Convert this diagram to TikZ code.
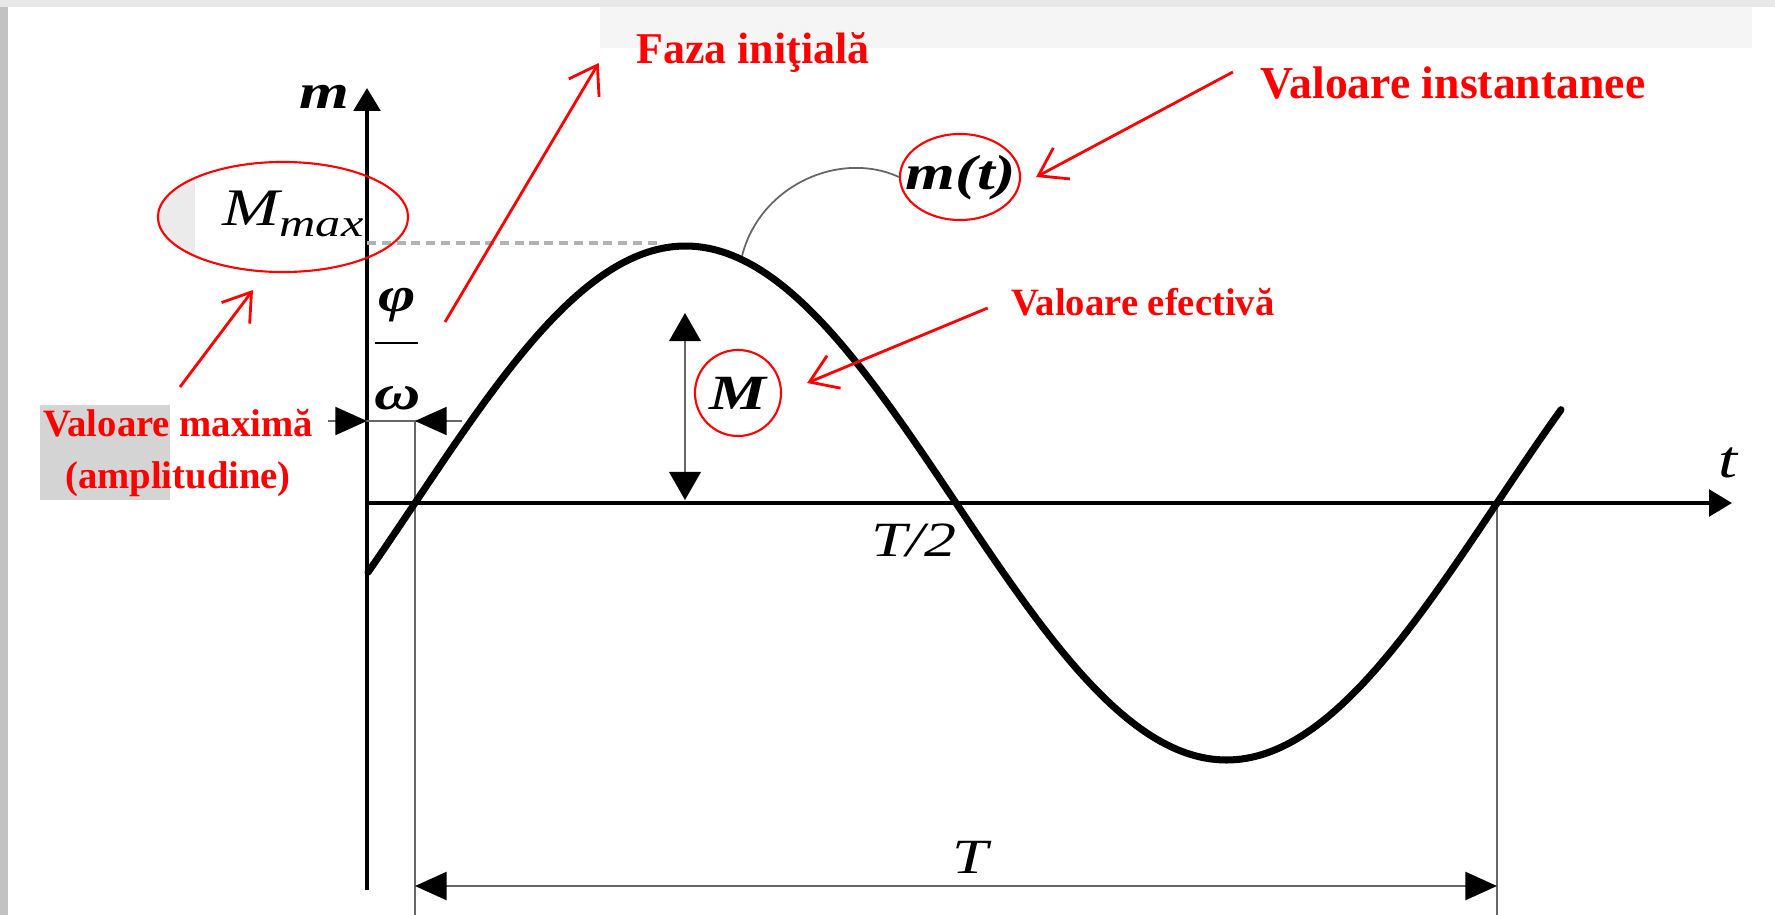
\documentclass[tikz,border=0pt]{standalone}
\usepackage{fontspec}
\setmainfont{Liberation Serif}
\usetikzlibrary{arrows.meta,shapes.geometric}
\newcommand\mxs[1]{\scalebox{1.3}[1]{#1}}
\definecolor{pured}{RGB}{255,0,0}
\tikzset{
  axisline/.style={line width=1.2pt,-{Triangle[length=6.5pt,width=7.5pt]}},
  wave/.style={line width=2pt,line join=round,line cap=round},
  thinline/.style={line width=0.45pt,black!60},
  dimarrow/.style={line width=0.6pt,black!60,{Triangle[length=9pt,width=8pt,color=black]}-{Triangle[length=9pt,width=8pt,color=black]}},
  headarrow/.style={line width=0.45pt,black!60,-{Triangle[length=9pt,width=8pt,color=black]}},
  redarrow/.style={pured,line width=0.8pt,-{Straight Barb[length=7.5pt,width=10pt]}},
  redell/.style={draw=pured,line width=0.6pt,ellipse,inner sep=0pt},
  redlab/.style={text=pured,inner sep=0pt,align=center},
  mlab/.style={inner sep=0pt,font=\fontsize{14}{16}\selectfont},
}
\begin{document}
\begin{tikzpicture}[x=0.01cm,y=-0.01cm]
\useasboundingbox (0,0) rectangle (1775,915);
% background
\fill[white] (0,0) rectangle (1775,915);
\fill[black!24] (0,0) rectangle (8,915);
\fill[black!9] (0,0) rectangle (1775,7);
\fill[black!4] (600,7) rectangle (1752,48);
\fill[black!17] (40,405) rectangle (170,500);
\begin{scope}
\clip (283,217) ellipse [x radius=125, y radius=55];
\fill[black!8] (150,160) rectangle (195,275);
\end{scope}

% axes
\coordinate (O) at (367,503);
\coordinate (Ytop) at (367,88);
\coordinate (Ybot) at (367,890);
\coordinate (Xend) at (1732,503);
\draw[axisline] (Ybot) -- (Ytop);
\draw[axisline] (O) -- (Xend);

% dashed max line
\coordinate (Mtop) at (367,243);
\coordinate (Pk) at (660,243);
\draw[black!30,line width=0.9pt,dash pattern=on 2.6pt off 1.6pt] (Mtop) -- (Pk);

% thin verticals
\coordinate (Z1) at (415,421);
\coordinate (Z1b) at (415,915);
\coordinate (Z2) at (1497,503);
\coordinate (Z2b) at (1497,915);
\draw[thinline] (Z1) -- (Z1b);
\draw[thinline] (Z2) -- (Z2b);

% phi/omega dimension
\coordinate (pwL) at (328,421);
\coordinate (pwA) at (367,421);
\coordinate (pwR) at (462,421);
\draw[thinline] (pwL) -- (pwR);
\draw[headarrow] (pwL) -- (pwA);
\draw[headarrow] (pwR) -- (Z1);

% period arrow
\coordinate (T1) at (415,886);
\coordinate (T2) at (1497,886);
\draw[dimarrow] (T1) -- (T2);

% M arrow
\coordinate (Ma) at (685,313);
\coordinate (Mb) at (685,500);
\draw[line width=0.6pt,black!60,{Triangle[length=8pt,width=9pt,color=black]}-{Triangle[length=8pt,width=9pt,color=black]}] (Ma) -- (Mb);

% sine wave
\draw[wave] plot[domain=368:1561,samples=240] (\x,{503-257*sin((\x-415)/1082*360)});

% labels
\node[mlab] (mlab) at (324,97) {\mxs{\bfseries\itshape m}};
\node[mlab,font=\fontsize{15}{16}\selectfont] (tlab) at (1728,463) {\mxs{\itshape t}};
\node[mlab] (half) at (914,540) {\mxs{\itshape T/2}};
\node[mlab] (per) at (970,857) {\mxs{\itshape T}};
\node[mlab] (phi) at (397,305) {\mxs{\bfseries\itshape φ}};
\node[mlab] (omg) at (398,398) {\mxs{\bfseries\itshape ω}};
\coordinate (fb1) at (375,343);
\coordinate (fb2) at (418,343);
\draw[line width=0.8pt] (fb1) -- (fb2);

% Mmax
\node[redell,minimum width=2.5cm,minimum height=1.1cm] (mmaxE) at (283,217) {};
\node[mlab] (mmax) at (293,214) {\mxs{\itshape\fontsize{15}{16}\selectfont M{\fontsize{11}{11}\selectfont\raisebox{-3pt}{max}}}};

% m(t)
\node[redell,minimum width=1.2cm,minimum height=0.86cm] (mtE) at (960,177) {};
\node[mlab] (mt) at (961,178) {\mxs{\bfseries\itshape m(t)}};
\coordinate (Cs) at (742,256);
\draw[black!60,line width=0.5pt] (Cs) .. controls (760,185) and (840,150) .. (mtE.west);

% M
\node[redell,circle,minimum size=0.86cm] (Mc) at (738,393) {};
\node[mlab] (Mtxt) at (738,393) {\mxs{\bfseries\itshape M}};

% red labels
\node[redlab,font=\bfseries\fontsize{12.5}{15}\selectfont] (faza) at (753,53) {Faza iniţială};
\node[redlab,font=\bfseries\fontsize{13}{15}\selectfont] (inst) at (1453,83) {Valoare instantanee};
\node[redlab,font=\bfseries\fontsize{11}{13}\selectfont] (efect) at (1143,302) {Valoare efectivă};
\node[redlab,font=\bfseries\fontsize{11}{15}\selectfont] (maxim) at (178,453) {Valoare maximă\\(amplitudine)};

% red arrows
\draw[redarrow] ([shift={(48,17)}]phi.center) -- ([shift={(-37,10)}]faza.west);
\draw[redarrow] ([shift={(-27,-11)}]inst.west) -- ([shift={(15,0)}]mtE.east);
\draw[redarrow] ([shift={(-23,6)}]efect.west) -- ([shift={(25,-10)}]Mc.east);
\draw[redarrow] ([shift={(2,-66)}]maxim.center) -- ([shift={(-30,73)}]mmaxE.center);
\end{tikzpicture}
\end{document}
